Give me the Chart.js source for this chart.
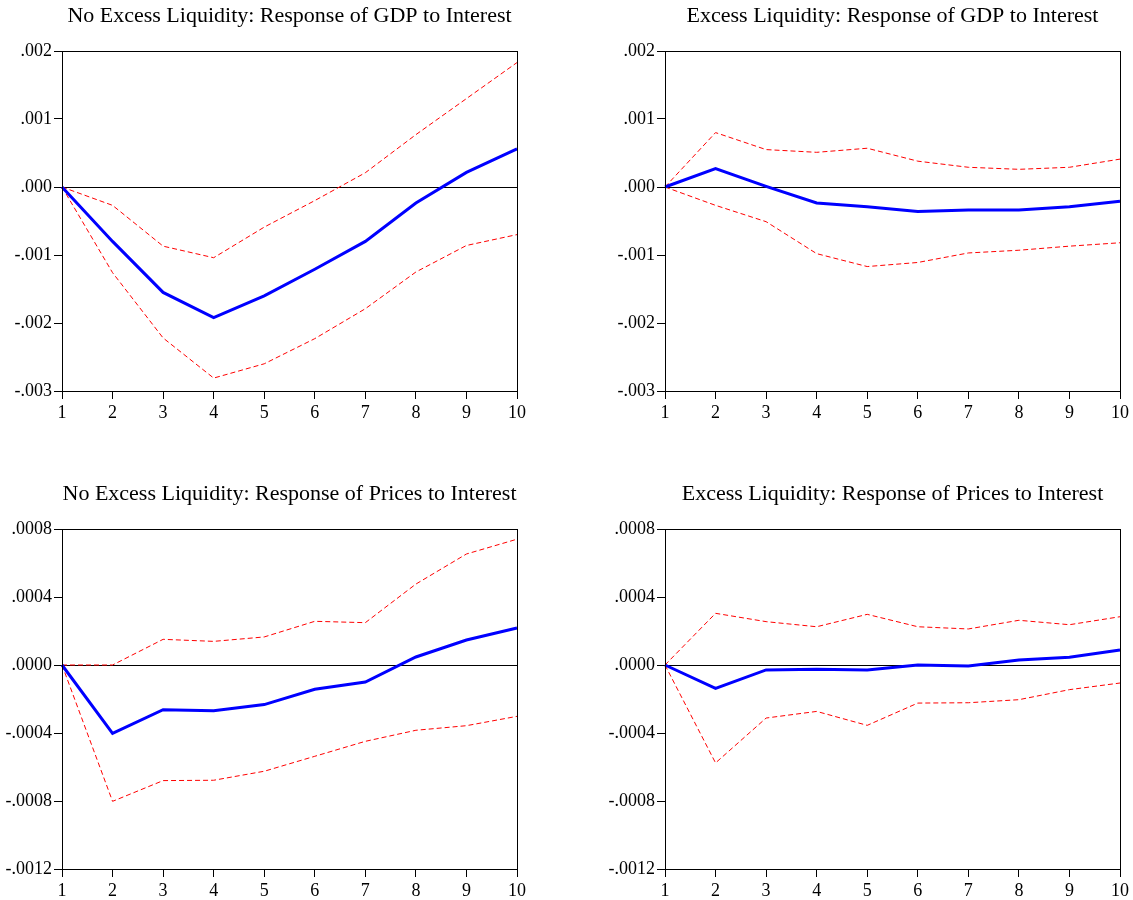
<!DOCTYPE html>
<html>
<head>
<meta charset="utf-8">
<script src="https://cdn.jsdelivr.net/npm/chart.js@4"></script>
<style>
  html, body { margin: 0; padding: 0; background: #ffffff; overflow: hidden; width: 1133px; height: 900px; }
  canvas { position: absolute; }
</style>
</head>
<body>
<canvas id="c1" width="579" height="430" style="left:0px;top:0px"></canvas>
<canvas id="c2" width="579" height="430" style="left:603px;top:0px"></canvas>
<canvas id="c3" width="579" height="430" style="left:0px;top:478px"></canvas>
<canvas id="c4" width="579" height="430" style="left:603px;top:478px"></canvas>
<script>
// ---- Data ----
const periods = ['1','2','3','4','5','6','7','8','9','10'];

const titleGdpNoExcess = 'No Excess Liquidity: Response of GDP to Interest';
const titleGdpExcess = 'Excess Liquidity: Response of GDP to Interest';
const titlePricesNoExcess = 'No Excess Liquidity: Response of Prices to Interest';
const titlePricesExcess = 'Excess Liquidity: Response of Prices to Interest';

const gdpNoExcess      = [0, -0.00080, -0.00155, -0.00192, -0.00160, -0.00121, -0.00080, -0.000235, 0.000215, 0.00056];
const gdpNoExcessUpper = [0, -0.00027, -0.00087, -0.00104, -0.00059, -0.00020, 0.00021, 0.00077, 0.00130, 0.00183];
const gdpNoExcessLower = [0, -0.00126, -0.00222, -0.00281, -0.00260, -0.00223, -0.00179, -0.00125, -0.00086, -0.00070];

const gdpExcess      = [0, 0.00027, 0.00001, -0.000235, -0.00029, -0.00036, -0.00034, -0.00034, -0.00029, -0.00021];
const gdpExcessUpper = [0, 0.00080, 0.00055, 0.00051, 0.00057, 0.00038, 0.00029, 0.00026, 0.00029, 0.00041];
const gdpExcessLower = [0, -0.00027, -0.00051, -0.00098, -0.00117, -0.00111, -0.00097, -0.00093, -0.00087, -0.00082];

const pricesNoExcess      = [0, -0.000402, -0.000263, -0.000269, -0.000233, -0.000143, -0.000100, 0.000047, 0.000147, 0.000218];
const pricesNoExcessUpper = [0, 0, 0.000151, 0.000139, 0.000165, 0.000257, 0.000249, 0.000476, 0.000653, 0.000740];
const pricesNoExcessLower = [0, -0.000802, -0.000680, -0.000678, -0.000625, -0.000537, -0.000449, -0.000384, -0.000357, -0.000302];

const pricesExcess      = [0, -0.000137, -0.000029, -0.000025, -0.000029, 0, -0.000006, 0.000030, 0.000045, 0.000088];
const pricesExcessUpper = [0, 0.000304, 0.000255, 0.000225, 0.000298, 0.000225, 0.000212, 0.000263, 0.000237, 0.000284];
const pricesExcessLower = [0, -0.000576, -0.000312, -0.000273, -0.000355, -0.000224, -0.000222, -0.000204, -0.000145, -0.000106];

const gdpTickValues = [-0.003, -0.002, -0.001, 0, 0.001, 0.002];
const gdpTickLabels = ['-.003', '-.002', '-.001', '.000', '.001', '.002'];
const priceTickValues = [-0.0012, -0.0008, -0.0004, 0, 0.0004, 0.0008];
const priceTickLabels = ['-.0012', '-.0008', '-.0004', '.0000', '.0004', '.0008'];

// ---- Rendering ----
const FONT = 'Liberation Serif';

const framePlugin = {
  id: 'frame',
  afterDraw(chart) {
    const a = chart.chartArea;
    const ctx = chart.ctx;
    ctx.save();
    ctx.strokeStyle = '#000';
    ctx.lineWidth = 1;
    ctx.strokeRect(Math.round(a.left) + 0.5, Math.round(a.top) + 0.5,
                   Math.round(a.right - a.left), Math.round(a.bottom - a.top));
    ctx.restore();
  }
};

function makeChart(id, title, mid, upper, lower, tickVals, tickLabels) {
  return new Chart(document.getElementById(id), {
    type: 'line',
    data: {
      labels: periods,
      datasets: [
        { data: mid, borderColor: '#0000ff', borderWidth: 3, pointRadius: 0, tension: 0, fill: false },
        { data: upper, borderColor: '#ff0000', borderWidth: 1, borderDash: [5, 3], pointRadius: 0, tension: 0, fill: false },
        { data: lower, borderColor: '#ff0000', borderWidth: 1, borderDash: [5, 3], pointRadius: 0, tension: 0, fill: false }
      ]
    },
    options: {
      responsive: false,
      animation: false,
      devicePixelRatio: 1,
      layout: { padding: 0 },
      plugins: {
        legend: { display: false },
        tooltip: { enabled: false },
        title: {
          display: true,
          text: title,
          color: '#000',
          font: { family: FONT, size: 22, weight: 'normal', lineHeight: 1.2 },
          padding: { top: 3, bottom: 21.6 }
        }
      },
      scales: {
        x: {
          type: 'category',
          offset: false,
          afterFit(scale) { scale.height = 39; },
          grid: { drawOnChartArea: false, drawTicks: true, tickLength: 8, color: '#000', tickColor: '#000' },
          border: { display: true, color: '#000', width: 1 },
          ticks: { autoSkip: false, maxRotation: 0, minRotation: 0, padding: 3, color: '#000',
                   font: { family: FONT, size: 18 } }
        },
        y: {
          min: tickVals[0],
          max: tickVals[tickVals.length - 1],
          afterFit(scale) { scale.width = 62; },
          afterBuildTicks(scale) { scale.ticks = tickVals.map(v => ({ value: v })); },
          grid: {
            drawOnChartArea: true,
            drawTicks: true,
            tickLength: 8,
            tickColor: '#000',
            color: (ctx) => (ctx.tick && ctx.tick.value === 0) ? '#000' : 'rgba(0,0,0,0)',
            lineWidth: 1
          },
          border: { display: true, color: '#000', width: 1 },
          ticks: {
            padding: 2,
            color: '#000',
            font: { family: FONT, size: 18 },
            callback: (value, index) => tickLabels[index]
          }
        },
        yRightSpacer: {
          type: 'linear',
          position: 'right',
          display: true,
          afterFit(scale) { scale.width = 62; },
          grid: { display: false, drawTicks: false },
          border: { display: false },
          ticks: { display: false }
        }
      }
    },
    plugins: [framePlugin]
  });
}

makeChart('c1', titleGdpNoExcess, gdpNoExcess, gdpNoExcessUpper, gdpNoExcessLower, gdpTickValues, gdpTickLabels);
makeChart('c2', titleGdpExcess, gdpExcess, gdpExcessUpper, gdpExcessLower, gdpTickValues, gdpTickLabels);
makeChart('c3', titlePricesNoExcess, pricesNoExcess, pricesNoExcessUpper, pricesNoExcessLower, priceTickValues, priceTickLabels);
makeChart('c4', titlePricesExcess, pricesExcess, pricesExcessUpper, pricesExcessLower, priceTickValues, priceTickLabels);
</script>
</body>
</html>
